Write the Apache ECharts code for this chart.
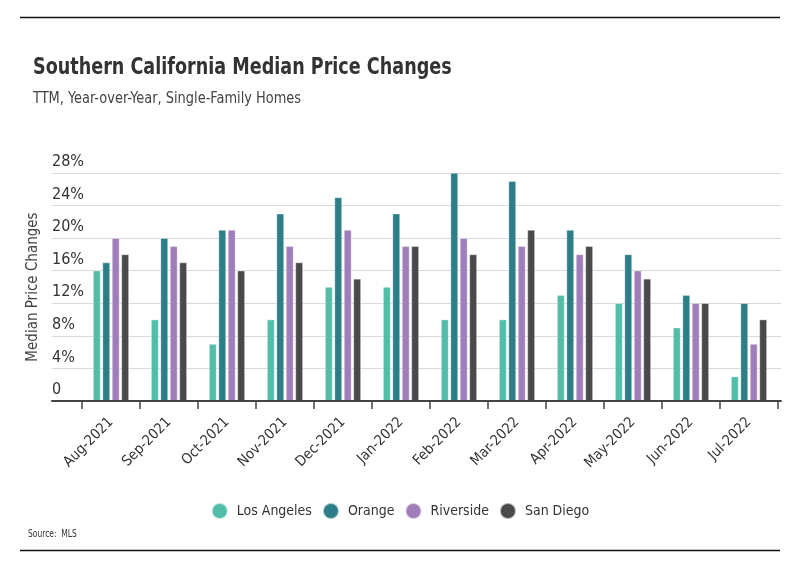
<!DOCTYPE html>
<html>
<head>
<meta charset="utf-8">
<script src="https://cdn.jsdelivr.net/npm/echarts@6/dist/echarts.min.js"></script>
<style>
html,body{margin:0;padding:0;background:#fff;}
#chart{width:800px;height:575px;}
</style>
</head>
<body>
<div id="chart"></div>
<script>
const categories = ['Aug-2021','Sep-2021','Oct-2021','Nov-2021','Dec-2021','Jan-2022','Feb-2022','Mar-2022','Apr-2022','May-2022','Jun-2022','Jul-2022'];
const losAngeles = [16,10,7,10,14,14,10,10,13,12,9,3];
const orange     = [17,20,21,23,25,23,28,27,21,18,13,12];
const riverside  = [20,19,21,19,21,19,20,19,18,16,12,7];
const sanDiego   = [18,17,16,17,15,19,18,21,19,15,12,10];
const yTicks = [0,4,8,12,16,20,24,28];

const FONT = "'DejaVu Sans Condensed','Roboto',sans-serif";
const colors = ['#52bea9','#2e7e88','#a07eb9','#4a4a4a'];
const names = ['Los Angeles','Orange','Riverside','San Diego'];
const seriesData = [losAngeles, orange, riverside, sanDiego];

const chart = echarts.init(document.getElementById('chart'), null, {renderer:'canvas'});
const gridTop = 173, gridBottom = 575 - 401;
const option = {
  backgroundColor:'#fff',
  animation:false,
  color: colors,
  textStyle:{fontFamily:FONT},
  legend:{
    data:names, left:'center', top:497, icon:'circle', itemWidth:16, itemHeight:16, itemGap:10,
    textStyle:{fontFamily:FONT, fontSize:14, color:'#333', padding:[0,0,0,4]}
  },
  grid:[
    {left:52, right:19, top:gridTop, bottom:gridBottom},
    {left:82, right:22, top:gridTop, bottom:gridBottom}
  ],
  xAxis:[
    {type:'category', gridIndex:0, data:[''], axisLine:{show:true, lineStyle:{color:'#444', width:2}},
     axisTick:{show:false}, axisLabel:{show:false}, splitLine:{show:false}, z:5},
    {type:'category', gridIndex:1, data:categories,
     axisLine:{show:false},
     axisTick:{show:true, alignWithLabel:false, length:8, lineStyle:{color:'#444', width:1.5}},
     axisLabel:{rotate:45, fontFamily:FONT, fontSize:14.5, color:'#333', margin:19, interval:0},
     splitLine:{show:false}}
  ],
  yAxis:[
    {type:'value', gridIndex:0, min:0, max:28, interval:4,
     name:'Median Price Changes', nameLocation:'middle', nameGap:7,
     nameTextStyle:{fontFamily:FONT, fontSize:15, color:'#444'},
     axisLine:{show:false}, axisTick:{show:false},
     splitLine:{show:true, lineStyle:{color:'#d9d9d9', width:1}},
     axisLabel:{inside:false, margin:0, align:'left', verticalAlign:'bottom', padding:[0,0,3,0],
       fontFamily:FONT, fontSize:16, color:'#333',
       formatter:function(v){return yTicks.indexOf(v)>=0 ? (v===0?'0':v+'%') : '';}}},
    {type:'value', gridIndex:1, min:0, max:28, interval:4, show:false, splitLine:{show:false}}
  ],
  series: seriesData.map(function(d,i){
    return {
      name:names[i], type:'bar', xAxisIndex:1, yAxisIndex:1, data:d,
      barWidth:7.5, barGap:'26%',
      itemStyle:{color:colors[i], borderColor:'rgba(255,255,255,0.6)', borderWidth:0.6}
    };
  }),
  graphic:[
    {type:'line', shape:{x1:20,y1:17.5,x2:780,y2:17.5}, style:{stroke:'#111', lineWidth:1.5}},
    {type:'line', shape:{x1:20,y1:550.5,x2:780,y2:550.5}, style:{stroke:'#111', lineWidth:1.5}},
    {type:'text', x:33, y:68, scaleX:0.85,
     style:{text:'Southern California Median Price Changes', font:"bold 23px 'DejaVu Sans Condensed', sans-serif",
            fill:'#333', textVerticalAlign:'middle', verticalAlign:'middle'}},
    {type:'text', x:33, y:99, scaleX:0.93,
     style:{text:'TTM, Year-over-Year, Single-Family Homes', font:"15.5px 'DejaVu Sans Condensed', sans-serif",
            fill:'#444', textVerticalAlign:'middle', verticalAlign:'middle'}},
    {type:'text', x:28, y:534, scaleX:0.8,
     style:{text:'Source:  MLS', font:"10.5px 'DejaVu Sans Condensed', sans-serif",
            fill:'#333', textVerticalAlign:'middle', verticalAlign:'middle'}}
  ]
};
chart.setOption(option);
</script>
</body>
</html>
